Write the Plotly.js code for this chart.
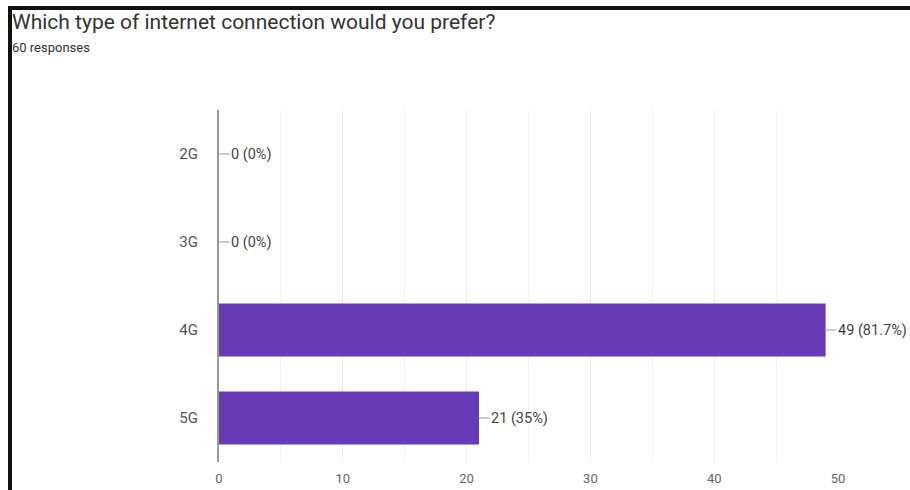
<!DOCTYPE html>
<html>
<head>
<meta charset="utf-8">
<script src="https://cdn.plot.ly/plotly-3.0.1.min.js"></script>
<style>
  html, body { margin: 0; padding: 0; background: #fff; }
  #wrap { position: relative; width: 910px; height: 490px; overflow: hidden; }
  #chart { position: absolute; left: 0; top: 0; width: 910px; height: 490px; }
  #frame { position: absolute; left: 8px; top: 6px; width: 910px; height: 500px;
           border-left: 4px solid #111; border-top: 4px solid #111; pointer-events: none; }
</style>
</head>
<body>
<div id="wrap">
  <div id="chart"></div>
  <div id="frame"></div>
</div>
<script>
const categories = ["2G", "3G", "4G", "5G"];
const counts = [0, 0, 49, 21];
const percentLabels = ["0%", "0%", "81.7%", "35%"];
const xTicks = [0, 10, 20, 30, 40, 50];
const titleText = "Which type of internet connection would you prefer?";
const subtitleText = "60 responses";

const L = 219, R = 838, T = 110, B = 462, W = 910, H = 490;

const trace = {
  type: "bar",
  orientation: "h",
  x: counts,
  y: categories,
  marker: { color: "#673ab7", line: { width: 0 } },
  hoverinfo: "none",
  width: 0.6
};

const annotations = categories.map((c, i) => ({
  x: counts[i], y: c, xref: "x", yref: "y",
  text: counts[i] + " (" + percentLabels[i] + ")",
  showarrow: true, arrowhead: 0, arrowwidth: 1, arrowcolor: "#999",
  ax: 11, ay: 0, xanchor: "left", yanchor: "middle",
  font: { family: "Roboto, Arial, sans-serif", size: 14.5, color: "#444" },
  borderpad: 0
}));

annotations.push({
  xref: "paper", yref: "paper",
  x: (10 - L) / (R - L), y: (B - 47) / (B - T),
  xanchor: "left", yanchor: "middle", showarrow: false,
  text: subtitleText,
  font: { family: "Roboto, Arial, sans-serif", size: 13, color: "#333" }
});

const layout = {
  width: W, height: H,
  margin: { l: L, r: W - R, t: T, b: H - B, pad: 0 },
  paper_bgcolor: "#fff", plot_bgcolor: "#fff",
  showlegend: false,
  title: {
    text: titleText, xref: "container", yref: "container",
    x: 12 / W, xanchor: "left", y: 1 - 22 / H, yanchor: "middle",
    font: { family: "Roboto, Arial, sans-serif", size: 21, color: "#333" }
  },
  xaxis: {
    range: [0, 50], tickvals: xTicks, ticktext: xTicks.map(String),
    showgrid: true, gridcolor: "#ececec", gridwidth: 1,
    minor: { dtick: 5, showgrid: true, gridcolor: "#f3f3f3", gridwidth: 1 },
    zeroline: false, showline: false, ticks: "",
    ticklabelstandoff: 7,
    tickfont: { family: "Roboto, Arial, sans-serif", size: 13, color: "#666" },
    fixedrange: true
  },
  yaxis: {
    categoryorder: "array", categoryarray: categories, autorange: "reversed",
    showgrid: false, zeroline: false, showline: true, linecolor: "#999", linewidth: 2,
    ticks: "", ticklabelstandoff: 16,
    tickfont: { family: "Roboto, Arial, sans-serif", size: 15, color: "#555" },
    fixedrange: true
  },
  bargap: 0.4,
  annotations: annotations
};

Plotly.newPlot("chart", [trace], layout, { displayModeBar: false, staticPlot: true });
</script>
</body>
</html>
